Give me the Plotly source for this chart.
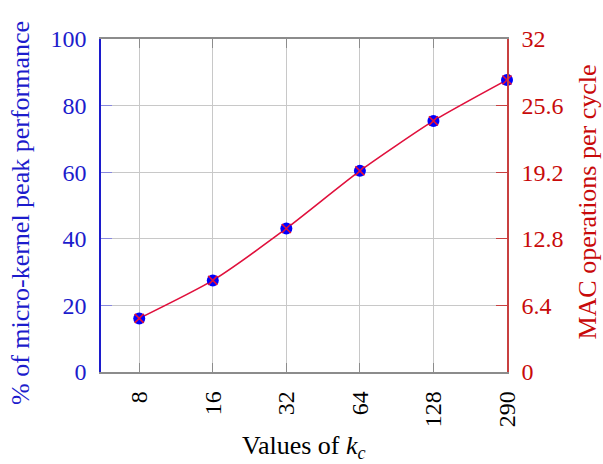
import plotly.graph_objects as go

categories = ["8", "16", "32", "64", "128", "290"]
perf_pct = [16.1, 27.5, 43.1, 60.4, 75.4, 87.7]
y2_ticks = [0, 6.4, 12.8, 19.2, 25.6, 32]
y2_labels = ["0", "6.4", "12.8", "19.2", "25.6", "32"]
y_ticks = [0, 20, 40, 60, 80, 100]

BLUE = "#1c1ccc"
RED = "#c80a0a"
LINE = "#e0103c"
FONT = "Liberation Serif"
FS = 24
TS = 26

xs = list(range(len(categories)))

fig = go.Figure()
fig.add_trace(go.Scatter(
    x=xs, y=perf_pct, mode="lines", line=dict(color=LINE, width=1.6, shape="spline", smoothing=0.6),
    cliponaxis=False, showlegend=False, hoverinfo="skip"))
fig.add_trace(go.Scatter(
    x=xs, y=perf_pct, mode="markers", marker=dict(color="#0000ff", size=12, symbol="circle", line=dict(width=0)),
    cliponaxis=False, showlegend=False))
fig.add_trace(go.Scatter(
    x=xs, y=perf_pct, mode="markers", marker=dict(color=LINE, size=9, symbol="x-thin", line=dict(width=1.6, color=LINE)),
    cliponaxis=False, showlegend=False))
fig.add_trace(go.Scatter(x=[xs[0]], y=[perf_pct[0] * 0.32], yaxis="y2", mode="markers",
                         marker=dict(opacity=0), showlegend=False, hoverinfo="skip"))

fig.update_layout(
    width=603, height=464,
    margin=dict(l=101, r=96, t=39, b=92),
    paper_bgcolor="white", plot_bgcolor="white",
    font=dict(family=FONT, size=FS, color="black"),
    xaxis=dict(
        range=[-0.52, 5], tickvals=xs, ticktext=categories, tickangle=-90,
        showgrid=True, gridcolor="#c8c8c8", gridwidth=1,
        showline=True, linecolor="#8c8c8c", linewidth=1.5, mirror="ticks",
        ticks="inside", ticklen=9, tickcolor="#8c8c8c", tickwidth=1.2,
        ticklabelstandoff=8, zeroline=False, automargin=False,
        tickfont=dict(size=FS),
    ),
    yaxis=dict(
        range=[0, 100], tickvals=y_ticks, color=BLUE,
        showgrid=True, gridcolor="#c8c8c8", gridwidth=1,
        showline=True, linecolor=BLUE, linewidth=1.5,
        ticks="inside", ticklen=11, tickcolor="#8888dd", tickwidth=1.2,
        ticklabelstandoff=8, zeroline=False, automargin=False,
        tickfont=dict(color=BLUE, size=FS),
    ),
    yaxis2=dict(
        range=[0, 32], tickvals=y2_ticks, ticktext=y2_labels,
        overlaying="y", side="right", showgrid=False,
        showline=True, linecolor="#c84040", linewidth=1.5,
        ticks="inside", ticklen=11, tickcolor="#c84040", tickwidth=1.2,
        ticklabelstandoff=8, zeroline=False, automargin=False,
        tickfont=dict(color=RED, size=FS),
    ),
    annotations=[
        dict(text="Values of <i>k<sub>c</sub></i>", xref="paper", yref="paper", x=0.5, y=-0.225,
             xanchor="center", yanchor="middle", showarrow=False, font=dict(size=TS, color="black")),
        dict(text="% of micro-kernel peak performance", xref="paper", x=-0.2, yref="paper", y=0.477,
             textangle=-90, xanchor="center", yanchor="middle", showarrow=False,
             font=dict(size=TS, color=BLUE)),
        dict(text="MAC operations per cycle", xref="paper", x=1.198, yref="paper", y=0.51,
             textangle=-90, xanchor="center", yanchor="middle", showarrow=False,
             font=dict(size=TS, color=RED)),
    ],
)

fig.write_html("out.html", config={"displayModeBar": False},
               post_script="document.body.style.margin='0';document.body.style.padding='0';")
